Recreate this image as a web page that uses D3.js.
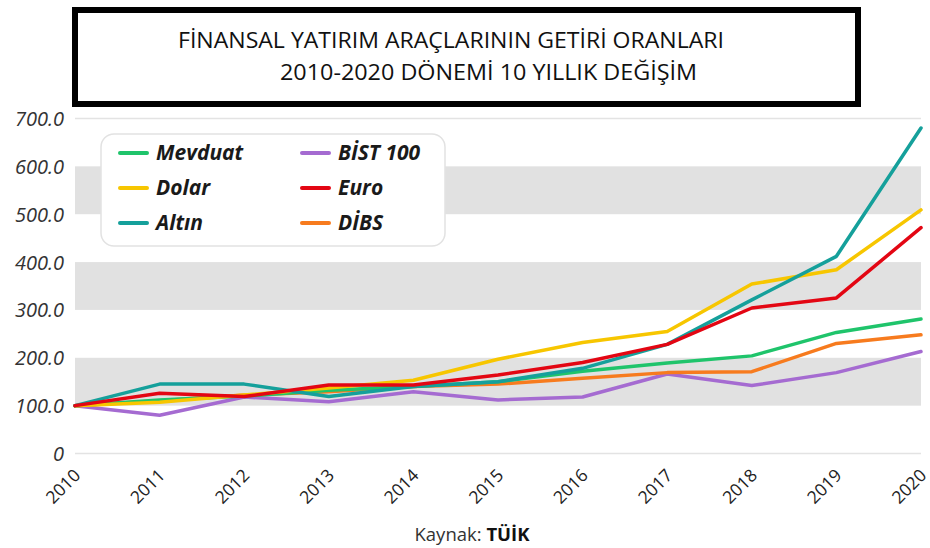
<!DOCTYPE html>
<html><head><meta charset="utf-8">
<script src="https://cdn.jsdelivr.net/npm/d3@7"></script>
<style>body{margin:0;background:#fff}svg{display:block}</style>
</head><body>
<svg id="c" width="930" height="548"></svg>
<script>
const years = [2010,2011,2012,2013,2014,2015,2016,2017,2018,2019,2020];
const mevduat = [100,112,120,132,140,150,172,189,204,253,281];
const dolar   = [100,107,122,137,153,197,232,255,354,384,509];
const altin   = [100,145,145,119,140,150,178,228,321,412,680];
const bist    = [100,80,118,108,129,112,118,166,142,169,213];
const euro    = [100,126,119,143,143,164,190,228,304,325,472];
const dibs    = [100,110,122,129,140,145,157,169,171,230,248];
const yTicks = [0,100,200,300,400,500,600,700];
const bands = [[100,200],[300,400],[500,600]];
const seriesNames = ["Mevduat","Dolar","Altın","BİST 100","Euro","DİBS"];
const seriesColors = ["#1fc46b","#f7c600","#15a09b","#a56bd1","#e30613","#f77b1e"];
const seriesValues = [mevduat,dolar,altin,bist,euro,dibs];
const drawOrder = [3,5,0,1,2,4];

const svg = d3.select("#c");
const x = d3.scaleLinear().domain([2010,2020]).range([75,921]);
const y = d3.scaleLinear().domain([0,700]).range([453.5,118.5]);

// bands
svg.selectAll("rect.band").data(bands).join("rect")
  .attr("x",x(2010)).attr("width",x(2020)-x(2010))
  .attr("y",d=>y(d[1])).attr("height",d=>y(d[0])-y(d[1]))
  .attr("fill","#e1e1e1");
// grid lines at 0 and 700
svg.selectAll("line.grid").data([0,700]).join("line")
  .attr("x1",x(2010)).attr("x2",x(2020)).attr("y1",d=>y(d)).attr("y2",d=>y(d))
  .attr("stroke","#e3e3e3").attr("stroke-width",1.5);

// y axis labels
const yAxis = d3.axisLeft(y).tickValues(yTicks).tickSize(0).tickPadding(0)
  .tickFormat(d=>d===0?"0":d3.format(".1f")(d));
const gy = svg.append("g").attr("transform","translate(64,0)").call(yAxis);
gy.select(".domain").remove();
gy.selectAll("text").attr("font-family","'Open Sans', sans-serif").attr("font-style","italic")
  .attr("font-size",20).attr("fill","#333").attr("dy","0.35em");

// x axis labels
const xAxis = d3.axisBottom(x).tickValues(years).tickSize(0).tickFormat(d3.format("d"));
const gx = svg.append("g").attr("transform","translate(0,453.5)").call(xAxis);
gx.select(".domain").remove();
gx.selectAll("text").attr("font-family","'Open Sans', sans-serif").attr("font-size",17.5)
  .attr("fill","#222").attr("text-anchor","end").attr("y",0).attr("dy",0)
  .attr("transform","translate(6,23) rotate(-45)");

// lines
const line = d3.line().x((d,i)=>x(years[i])).y(d=>y(d));
svg.selectAll("path.series").data(drawOrder).join("path")
  .attr("d",i=>line(seriesValues[i])).attr("fill","none")
  .attr("stroke",i=>seriesColors[i]).attr("stroke-width",3.5)
  .attr("stroke-linejoin","round").attr("stroke-linecap","round");

// legend
const lg = svg.append("g");
lg.append("rect").attr("x",101).attr("y",134).attr("width",344).attr("height",112)
  .attr("rx",13).attr("fill","#fff").attr("stroke","#e2e2e2").attr("stroke-width",1.5);
seriesNames.forEach((n,i)=>{
  const col = Math.floor(i/3), row = i%3;
  const lx = col===0?120:302, ly = [153,188,223][row];
  lg.append("line").attr("x1",lx).attr("x2",lx+27).attr("y1",ly).attr("y2",ly)
    .attr("stroke",seriesColors[i]).attr("stroke-width",4).attr("stroke-linecap","round");
  lg.append("text").attr("x",lx+36).attr("y",ly).attr("dy","0.35em")
    .attr("font-family","'Open Sans', sans-serif").attr("font-weight","bold").attr("font-style","italic")
    .attr("font-size",21).attr("fill","#1a1a1a").text(n);
});

// title box
svg.append("rect").attr("x",75).attr("y",10).attr("width",783).attr("height",94)
  .attr("fill","#fff").attr("stroke","#000").attr("stroke-width",6);
svg.append("text").attr("x",178).attr("y",48).attr("textLength",546).attr("lengthAdjust","spacingAndGlyphs")
  .attr("font-family","'Open Sans', sans-serif").attr("font-size",21).attr("fill","#111")
  .text("FİNANSAL YATIRIM ARAÇLARININ GETİRİ ORANLARI");
svg.append("text").attr("x",280).attr("y",80).attr("textLength",417).attr("lengthAdjust","spacingAndGlyphs")
  .attr("font-family","'Open Sans', sans-serif").attr("font-size",21).attr("fill","#111")
  .text("2010-2020 DÖNEMİ 10 YILLIK DEĞİŞİM");

// source
const src = svg.append("text").attr("x",472).attr("y",541).attr("text-anchor","middle")
  .attr("font-family","'Open Sans', sans-serif").attr("font-size",18.5).attr("fill","#333");
src.append("tspan").text("Kaynak: ");
src.append("tspan").attr("font-weight","bold").attr("fill","#111").text("TÜİK");
</script>
</body></html>
